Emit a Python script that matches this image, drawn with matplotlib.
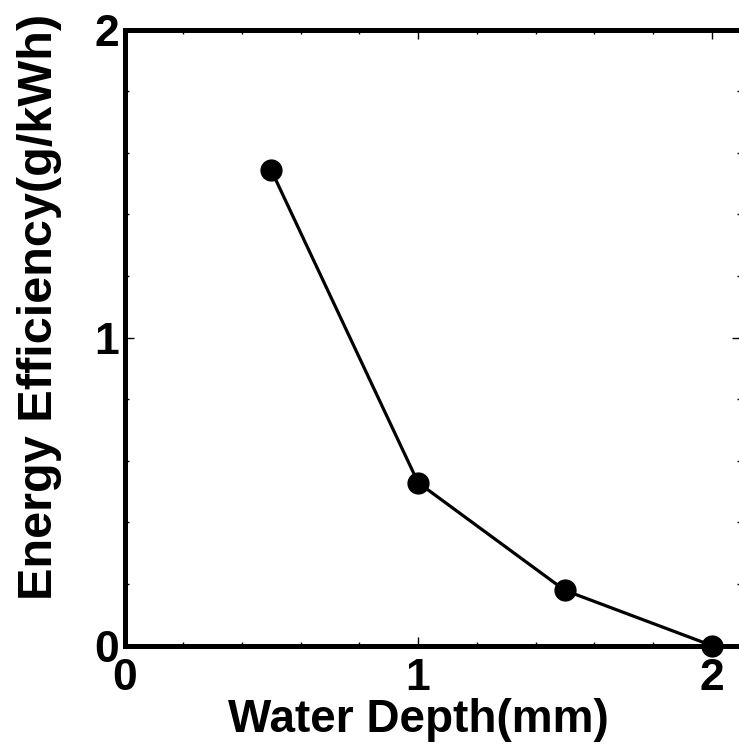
import matplotlib
matplotlib.use("Agg")
import matplotlib.pyplot as plt
from matplotlib.ticker import MultipleLocator

# Energy efficiency versus water depth
water_depth_mm = [0.5, 1.0, 1.5, 2.0]
energy_efficiency = [1.543, 0.529, 0.179, 0.0]
x_ticks = [0, 1, 2]
y_ticks = [0, 1, 2]

plt.rcParams['font.family'] = ['Liberation Sans', 'DejaVu Sans']
plt.rcParams['font.weight'] = 'bold'

W, H = 739, 747
fig = plt.figure(figsize=(W / 100, H / 100), dpi=100)
left, right = 124.5, 741.0
top, bottom = 29.5, 645.5
ax = fig.add_axes([left / W, (H - bottom) / H, (right - left) / W, (bottom - top) / H])

ax.plot(water_depth_mm, energy_efficiency, color='black', lw=2.3,
        marker='o', markersize=15, markerfacecolor='black',
        markeredgecolor='black', clip_on=False, zorder=5)

ax.set_xlim(0, 2.1)
ax.set_ylim(0, 2)
ax.set_xticks(x_ticks)
ax.set_yticks(y_ticks)
ax.set_xticklabels([str(t) for t in x_ticks])
ax.set_yticklabels([str(t) for t in y_ticks])
ax.xaxis.set_minor_locator(MultipleLocator(0.2))
ax.yaxis.set_minor_locator(MultipleLocator(0.2))

for s in ax.spines.values():
    s.set_linewidth(3.6)

ax.tick_params(which='both', direction='in', top=True, right=True,
               width=1.0, color='black')
ax.tick_params(which='major', length=6.5, labelsize=32)
ax.tick_params(which='minor', length=3)
ax.tick_params(axis='x', which='major', pad=9)
ax.tick_params(axis='y', which='major', pad=4)

ax.set_xlabel('Water Depth(mm)', fontsize=33, fontweight='bold')
ax.set_ylabel('Energy Efficiency(g/kWh)', fontsize=35, fontweight='bold')
ax.xaxis.set_label_coords((418 - left) / (right - left), (bottom - 698) / (bottom - top))
ax.yaxis.set_label_coords((62 - left) / (right - left), (bottom - 307) / (bottom - top))

fig.savefig('out.png', dpi=100)
